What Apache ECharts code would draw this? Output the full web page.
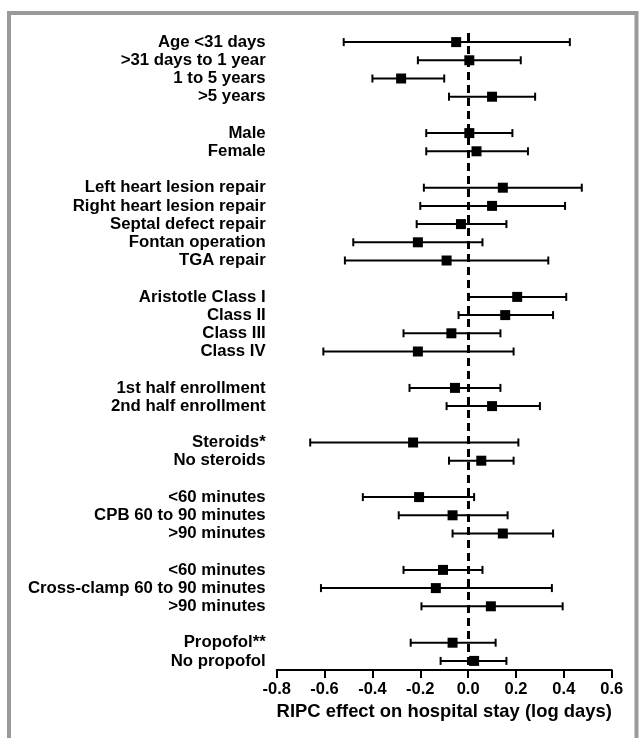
<!DOCTYPE html>
<html>
<head>
<meta charset="utf-8">
<style>
  html, body { margin: 0; padding: 0; background: #fff; }
  #main { width: 639px; height: 738px; }
</style>
<script src="https://cdn.jsdelivr.net/npm/echarts@6/dist/echarts.min.js"></script>
</head>
<body>
<div id="main"></div>
<script>
  // rows, top to bottom; '' = blank spacer row between groups
  var rowLabels = [
    'Age <31 days', '>31 days to 1 year', '1 to 5 years', '>5 years', '',
    'Male', 'Female', '',
    'Left heart lesion repair', 'Right heart lesion repair', 'Septal defect repair', 'Fontan operation', 'TGA repair', '',
    'Aristotle Class I', 'Class II', 'Class III', 'Class IV', '',
    '1st half enrollment', '2nd half enrollment', '',
    'Steroids*', 'No steroids', '',
    '<60 minutes', 'CPB 60 to 90 minutes', '>90 minutes', '',
    '<60 minutes', 'Cross-clamp 60 to 90 minutes', '>90 minutes', '',
    'Propofol**', 'No propofol'
  ]
  // point estimates and 95% CI
  var estimate = [
    -0.05, 0.005, -0.28, 0.10, null,
    0.005, 0.035, null,
    0.145, 0.10, -0.03, -0.21, -0.09, null,
    0.205, 0.155, -0.07, -0.21, null,
    -0.055, 0.10, null,
    -0.23, 0.055, null,
    -0.205, -0.065, 0.145, null,
    -0.105, -0.135, 0.095, null,
    -0.065, 0.025
  ]
  var lower = [
    -0.52, -0.21, -0.40, -0.08, null,
    -0.175, -0.175, null,
    -0.185, -0.20, -0.215, -0.48, -0.515, null,
    0.0, -0.04, -0.27, -0.605, null,
    -0.245, -0.09, null,
    -0.66, -0.08, null,
    -0.44, -0.29, -0.065, null,
    -0.27, -0.615, -0.195, null,
    -0.24, -0.115
  ]
  var upper = [
    0.425, 0.22, -0.10, 0.28, null,
    0.185, 0.25, null,
    0.475, 0.405, 0.16, 0.06, 0.335, null,
    0.41, 0.355, 0.135, 0.19, null,
    0.135, 0.30, null,
    0.21, 0.19, null,
    0.025, 0.165, 0.355, null,
    0.06, 0.35, 0.395, null,
    0.115, 0.16
  ]
  var xTicks = { min: -0.8, max: 0.6, step: 0.2 }

  var font = "'Liberation Sans', Arial, sans-serif"

  var barData = []
  var pointData = []
  rowLabels.forEach(function (lab, i) {
    if (estimate[i] == null) return
    barData.push([lower[i], upper[i], i])
    pointData.push([estimate[i], i])
  })

  var chart = echarts.init(document.getElementById('main'))
  chart.setOption({
    backgroundColor: '#fff',
    animation: false,
    graphic: [{
      type: 'rect',
      shape: { x: 9, y: 13, width: 627.5, height: 800 },
      style: { fill: 'none', stroke: '#9a9a9a', lineWidth: 4 },
      silent: true
    }],
    grid: { left: 276.7, right: 27.3, top: 33, bottom: 68 },
    xAxis: {
      type: 'value',
      min: xTicks.min,
      max: xTicks.max,
      interval: xTicks.step,
      name: 'RIPC effect on hospital stay (log days)',
      nameLocation: 'middle',
      nameGap: 27,
      nameTextStyle: { fontFamily: font, fontWeight: 'bold', fontSize: 18.4, color: '#000', verticalAlign: 'top' },
      axisLine: { show: true, lineStyle: { color: '#000', width: 2 } },
      axisTick: { show: true, length: 8, lineStyle: { color: '#000', width: 2 } },
      axisLabel: {
        margin: 11,
        fontFamily: font, fontWeight: 'bold', fontSize: 16.5, color: '#000',
        formatter: function (v) { return v.toFixed(1) }
      },
      splitLine: { show: false }
    },
    yAxis: {
      type: 'category',
      inverse: true,
      data: rowLabels,
      axisLine: { show: false },
      axisTick: { show: false },
      axisLabel: { margin: 11, fontFamily: font, fontWeight: 'bold', fontSize: 16.8, color: '#000', interval: 0 },
      splitLine: { show: false }
    },
    series: [
      {
        type: 'custom',
        data: barData,
        encode: { x: [0, 1], y: 2 },
        renderItem: function (params, api) {
          var a = api.coord([api.value(0), api.value(2)])
          var b = api.coord([api.value(1), api.value(2)])
          var h = 4
          var st = { stroke: '#000', lineWidth: 2 }
          return {
            type: 'group',
            children: [
              { type: 'line', shape: { x1: a[0], y1: a[1], x2: b[0], y2: b[1] }, style: st },
              { type: 'line', shape: { x1: a[0], y1: a[1] - h, x2: a[0], y2: a[1] + h }, style: st },
              { type: 'line', shape: { x1: b[0], y1: b[1] - h, x2: b[0], y2: b[1] + h }, style: st }
            ]
          }
        },
        z: 2
      },
      {
        type: 'scatter',
        data: pointData,
        symbol: 'rect',
        symbolSize: 10,
        itemStyle: { color: '#000', opacity: 1 },
        z: 3,
        markLine: {
          silent: true,
          symbol: 'none',
          label: { show: false },
          lineStyle: { color: '#000', width: 3, type: [8, 5] },
          data: [{ xAxis: 0 }]
        }
      }
    ]
  })
</script>
</body>
</html>
